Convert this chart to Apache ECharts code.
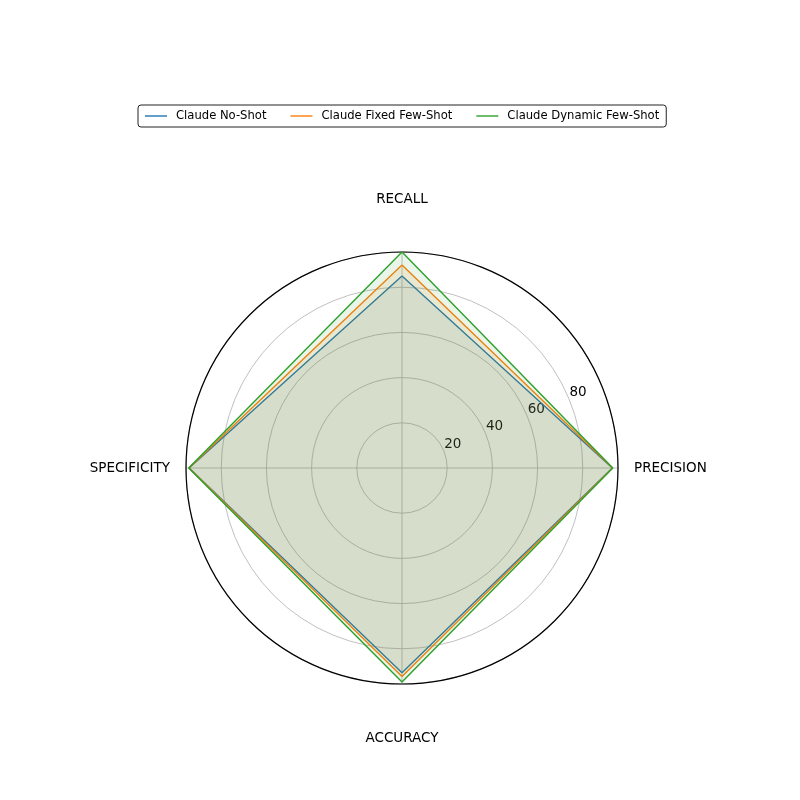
<!DOCTYPE html>
<html>
<head>
<meta charset="utf-8">
<script src="https://cdn.jsdelivr.net/npm/echarts@6/dist/echarts.min.js"></script>
<style>html,body{margin:0;padding:0;background:#fff;}#main{width:800px;height:800px;}</style>
</head>
<body>
<div id="main"></div>
<script>
const categories = ['RECALL', 'PRECISION', 'ACCURACY', 'SPECIFICITY'];
const seriesNames = ['Claude No-Shot', 'Claude Fixed Few-Shot', 'Claude Dynamic Few-Shot'];
const noShot = [85.0, 93.1, 90.6, 94.2];
const fixedFewShot = [89.8, 93.2, 92.3, 94.3];
const dynamicFewShot = [95.6, 93.3, 94.7, 94.4];
const radialTicks = [20, 40, 60, 80];
const rMax = 95.6;
const colors = ['#1f77b4', '#ff7f0e', '#2ca02c'];

function toPolar(vals) {
  const pts = vals.map((v, i) => [v, i * 90]);
  pts.push([vals[0], 360]);
  return pts;
}
const allValues = [noShot, fixedFewShot, dynamicFewShot];
const font = 'DejaVu Sans';
const chart = echarts.init(document.getElementById('main'), null, {renderer: 'canvas'});
chart.setOption({
  animation: false,
  backgroundColor: '#fff',
  textStyle: {fontFamily: font},
  legend: {
    top: 105, left: 138,
    data: seriesNames,
    icon: 'rect', itemWidth: 22, itemHeight: 1.4, itemGap: 24,
    textStyle: {fontSize: 11.6, color: '#000', fontFamily: font, padding: [0, 0, 0, 4]},
    borderColor: '#222', borderWidth: 1, borderRadius: 3,
    padding: [5, 7, 5, 7]
  },
  polar: [
    {center: [402, 468], radius: 216},
    {center: [402, 468], radius: 216}
  ],
  angleAxis: [
    {polarIndex: 0, type: 'value', min: 0, max: 360, interval: 90, startAngle: 22.5, clockwise: false, show: false},
    {
      polarIndex: 1, type: 'value', min: 0, max: 360, interval: 90, startAngle: 90, clockwise: true,
      axisLine: {show: true, lineStyle: {color: '#000', width: 1.2}},
      axisTick: {show: false},
      splitLine: {show: true, lineStyle: {color: '#b0b0b0', width: 0.8}},
      axisLabel: {
        margin: 16, color: '#000', fontSize: 13.5, fontFamily: font,
        formatter: function (v) {
          const i = Math.round(v / 90);
          if (i >= categories.length) return '';
          if (i === 0) return '{t|' + categories[i] + '}';
          if (i === 2) return '{b|' + categories[i] + '}';
          return categories[i];
        },
        rich: {
          t: {fontSize: 13.5, fontFamily: font, color: '#000', padding: [0, 0, 30, 0]},
          b: {fontSize: 13.5, fontFamily: font, color: '#000', padding: [31, 0, 0, 0]}
        }
      }
    }
  ],
  radiusAxis: [
    {
      polarIndex: 0, type: 'value', min: 0, max: rMax, interval: 20,
      axisLine: {show: false}, axisTick: {show: false},
      splitLine: {show: true, lineStyle: {color: '#b0b0b0', width: 0.8}},
      axisLabel: {
        show: true, margin: 4, color: '#000', fontSize: 13.5, fontFamily: font,
        align: 'left', verticalAlign: 'middle',
        formatter: function (v) { return radialTicks.indexOf(v) >= 0 ? '{r|' + v + '}' : ''; },
        rich: {
          r: {fontSize: 13.5, fontFamily: font, color: '#000', padding: [0, 0, 6, 2]}
        }
      }
    },
    {polarIndex: 1, type: 'value', min: 0, max: rMax, show: false}
  ],
  series: allValues.map((vals, k) => ({
    name: seriesNames[k],
    type: 'line',
    coordinateSystem: 'polar',
    polarIndex: 1,
    data: toPolar(vals),
    showSymbol: false,
    symbol: 'none',
    color: colors[k],
    lineStyle: {color: colors[k], width: 1.4},
    areaStyle: {color: colors[k], opacity: 0.1},
    z: 3 + k
  }))
});
</script>
</body>
</html>
